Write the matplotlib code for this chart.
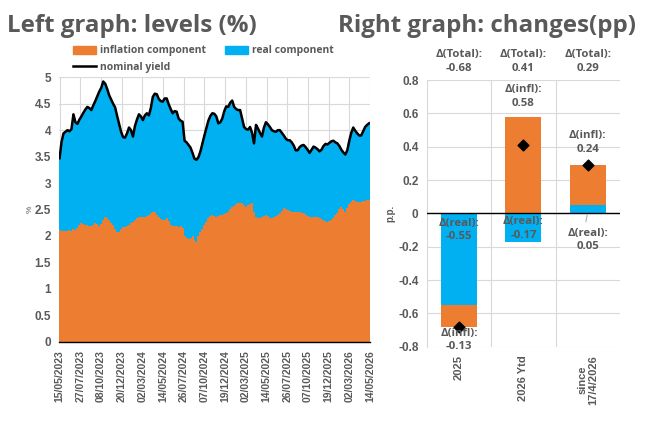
import numpy as np
import pandas as pd
import matplotlib
matplotlib.use("Agg")
import matplotlib.pyplot as plt
from matplotlib.lines import Line2D
from matplotlib.patches import Patch

# ---------------- data ----------------
start_date = "2023-05-15"
n_weeks = 157
nominal = [3.47, 3.78, 3.94, 3.97, 4.00, 3.98, 4.02, 4.30, 4.15, 4.12,
           4.20, 4.26, 4.33, 4.39, 4.44, 4.42, 4.38, 4.47, 4.55, 4.64,
           4.73, 4.80, 4.92, 4.88, 4.78, 4.66, 4.58, 4.50, 4.43, 4.27,
           4.12, 3.97, 3.87, 3.86, 3.94, 4.05, 4.00, 3.88, 4.08, 4.20,
           4.30, 4.26, 4.19, 4.28, 4.32, 4.28, 4.42, 4.63, 4.69, 4.68,
           4.59, 4.55, 4.54, 4.60, 4.60, 4.49, 4.40, 4.32, 4.36, 4.35,
           4.22, 4.18, 4.16, 3.80, 3.77, 3.72, 3.67, 3.57, 3.46, 3.44,
           3.49, 3.60, 3.75, 3.90, 4.04, 4.18, 4.27, 4.32, 4.31, 4.26,
           4.13, 4.15, 4.22, 4.36, 4.45, 4.44, 4.52, 4.56, 4.44, 4.40,
           4.38, 4.38, 4.22, 4.06, 4.02, 4.01, 4.06, 3.95, 3.75, 4.10,
           4.03, 3.95, 3.88, 4.05, 4.15, 4.11, 4.06, 4.00, 3.98, 3.97,
           4.00, 4.00, 3.95, 3.90, 3.84, 3.81, 3.81, 3.77, 3.71, 3.62,
           3.62, 3.68, 3.71, 3.72, 3.68, 3.63, 3.57, 3.63, 3.69, 3.67,
           3.64, 3.60, 3.63, 3.70, 3.74, 3.73, 3.76, 3.79, 3.80, 3.77,
           3.75, 3.70, 3.63, 3.58, 3.54, 3.62, 3.80, 3.95, 4.05, 3.99,
           3.94, 3.90, 3.90, 3.98, 4.06, 4.10, 4.13]
inflation = [2.11, 2.10, 2.09, 2.10, 2.09, 2.12, 2.10, 2.13, 2.12, 2.15,
             2.20, 2.24, 2.22, 2.21, 2.20, 2.19, 2.18, 2.21, 2.24, 2.22,
             2.19, 2.22, 2.30, 2.36, 2.34, 2.31, 2.25, 2.20, 2.14, 2.07,
             2.08, 2.13, 2.16, 2.17, 2.18, 2.21, 2.24, 2.27, 2.31, 2.33,
             2.35, 2.36, 2.36, 2.35, 2.37, 2.40, 2.43, 2.45, 2.46, 2.39,
             2.35, 2.32, 2.30, 2.31, 2.33, 2.28, 2.21, 2.19, 2.18, 2.18,
             2.17, 2.18, 2.15, 1.99, 1.97, 1.95, 1.97, 1.99, 1.92, 1.89,
             2.00, 2.08, 2.14, 2.20, 2.26, 2.34, 2.38, 2.40, 2.38, 2.36,
             2.37, 2.39, 2.40, 2.41, 2.43, 2.45, 2.51, 2.55, 2.57, 2.60,
             2.63, 2.62, 2.62, 2.58, 2.55, 2.58, 2.60, 2.62, 2.45, 2.35,
             2.33, 2.34, 2.35, 2.37, 2.40, 2.38, 2.33, 2.34, 2.36, 2.37,
             2.40, 2.43, 2.48, 2.52, 2.50, 2.49, 2.48, 2.46, 2.46, 2.46,
             2.46, 2.45, 2.44, 2.43, 2.40, 2.37, 2.36, 2.36, 2.36, 2.36,
             2.36, 2.34, 2.32, 2.30, 2.28, 2.27, 2.28, 2.31, 2.34, 2.39,
             2.44, 2.50, 2.55, 2.50, 2.46, 2.52, 2.60, 2.64, 2.68, 2.67,
             2.65, 2.65, 2.65, 2.66, 2.67, 2.68, 2.68]

tick_dates = ["15/05/2023", "27/07/2023", "08/10/2023", "20/12/2023",
              "02/03/2024", "14/05/2024", "26/07/2024", "07/10/2024",
              "19/12/2024", "02/03/2025", "14/05/2025", "26/07/2025",
              "07/10/2025", "19/12/2025", "02/03/2026", "14/05/2026"]

categories = ["2025", "2026 Ytd", "since\n17/4/2026"]
d_infl = [-0.13, 0.58, 0.24]
d_real = [-0.55, -0.17, 0.05]
d_total = [-0.68, 0.41, 0.29]

# ---------------- style ----------------
ORANGE = "#ED7D31"
BLUE = "#00B0F0"
GRAY = "#595959"
GRID = "#D9D9D9"
TFONT = ["Open Sans", "DejaVu Sans"]
AFONT = ["Liberation Sans", "DejaVu Sans"]

fig = plt.figure(figsize=(6.45, 4.24), dpi=100)

dates = pd.date_range(start_date, periods=n_weeks, freq="7D")
nom = np.array(nominal)
inf = np.array(inflation)
real = nom - inf

# ---------------- left chart ----------------
axL = fig.add_axes([0.0919, 0.1941, 0.4817, 0.6236])
axL.bar(dates, inf, width=7.0, color=ORANGE, linewidth=0, align="center")
axL.bar(dates, real, bottom=inf, width=7.0, color=BLUE, linewidth=0, align="center")
axL.plot(dates, nom, color="black", lw=1.8, solid_joinstyle="round")

tk = pd.to_datetime(tick_dates, format="%d/%m/%Y")
axL.set_xticks(tk)
axL.set_xticklabels(tick_dates, rotation=90, fontsize=7.5, color=GRAY,
                    family=AFONT, fontweight="bold")
axL.set_xlim(pd.Timestamp("2023-05-14"), pd.Timestamp("2026-05-14"))
axL.set_ylim(0, 5)
axL.set_yticks(np.arange(0, 5.01, 0.5))
axL.set_yticklabels(["0", "0.5", "1", "1.5", "2", "2.5", "3", "3.5", "4", "4.5", "5"],
                    fontsize=8.5, color=GRAY, family=AFONT, fontweight="bold")
axL.tick_params(length=0, pad=6)
axL.grid(True, color=GRID, lw=0.8)
axL.set_axisbelow(True)
for s in ["top", "right", "left"]:
    axL.spines[s].set_visible(False)
axL.spines["bottom"].set_color("black")
axL.spines["bottom"].set_linewidth(1.0)
axL.set_ylabel("%", fontsize=6, color=GRAY, family=AFONT, labelpad=0.5)

handles = [Patch(color=ORANGE, label="inflation component"),
           Line2D([0], [0], color="black", lw=1.8, label="nominal yield"),
           Patch(color=BLUE, label="real component")]
fig.legend(handles=handles, ncol=2, loc="upper left", bbox_to_anchor=(0.105, 0.905),
           frameon=False, prop={"family": TFONT, "weight": "bold", "size": 7.5},
           labelcolor=GRAY, handlelength=2.2, handleheight=0.8, columnspacing=1.8,
           handletextpad=0.4, labelspacing=0.5, borderpad=0)

# ---------------- right chart ----------------
axR = fig.add_axes([0.6616, 0.1823, 0.2997, 0.629])
x = np.arange(len(categories))
real_arr = np.array(d_real)
inf_arr = np.array(d_infl)
# stacking: real nearest zero, inflation stacked on the same side if same sign
infl_bottom = np.where(np.sign(inf_arr) == np.sign(real_arr), real_arr, 0)
axR.bar(x, real_arr, width=0.56, color=BLUE, linewidth=0, zorder=2)
axR.bar(x, inf_arr, bottom=infl_bottom, width=0.56, color=ORANGE, linewidth=0, zorder=2)
axR.scatter(x, d_total, marker="D", s=30, color="black", zorder=4)
axR.axhline(0, color="black", lw=1.0, zorder=3)

axR.set_xlim(-0.5, 2.5)
axR.set_ylim(-0.8, 0.8)
axR.set_yticks(np.round(np.arange(-0.8, 0.81, 0.2), 1))
axR.set_yticklabels(["-0.8", "-0.6", "-0.4", "-0.2", "0", "0.2", "0.4", "0.6", "0.8"],
                    fontsize=8.5, color=GRAY, family=AFONT, fontweight="bold")
axR.set_xticks(x)
axR.set_xticklabels(categories, rotation=90, fontsize=8, color=GRAY,
                    family=AFONT, fontweight="bold", linespacing=1.0)
axR.tick_params(length=0, pad=6)
axR.set_xticks([0.5, 1.5], minor=True)
axR.tick_params(which="minor", length=0)
axR.grid(True, axis="y", color=GRID, lw=0.8, zorder=0)
axR.grid(True, axis="x", which="minor", color=GRID, lw=0.8, zorder=0)
axR.set_axisbelow(True)
for s in ["top", "right", "bottom"]:
    axR.spines[s].set_visible(False)
axR.spines["left"].set_color(GRID)
axR.set_ylabel("p.p.", fontsize=7, color=GRAY, family=AFONT, fontweight="bold", labelpad=2)

lab = dict(ha="center", va="center", fontsize=8.2, color=GRAY, family=TFONT,
           fontweight="bold", linespacing=1.3, zorder=5)
for i in range(3):
    axR.text(x[i], 0.91, f"\u0394(Total):\n{d_total[i]:.2f}", clip_on=False, **lab)
# infl labels
axR.text(x[0], -0.76, f"\u0394(infl):\n{d_infl[0]:.2f}", clip_on=False, **lab)
axR.text(x[1], 0.70, f"\u0394(infl):\n{d_infl[1]:.2f}", **lab)
axR.text(x[2], 0.425, f"\u0394(infl):\n{d_infl[2]:.2f}", **lab)
# real labels
axR.text(x[0], -0.10, f"\u0394(real):\n{d_real[0]:.2f}", **lab)
axR.text(x[1], -0.09, f"\u0394(real):\n{d_real[1]:.2f}", **lab)
axR.text(x[2], -0.16, f"\u0394(real):\n{d_real[2]:.2f}", **lab)
axR.plot([x[2] - 0.01, x[2] - 0.03], [-0.01, -0.05], color="#A6A6A6", lw=0.7, zorder=5)

# ---------------- titles ----------------
fig.text(0.011, 0.924, "Left graph: levels (%)", fontsize=17.4, fontweight="bold",
         color=GRAY, family=TFONT, ha="left", va="baseline")
fig.text(0.524, 0.924, "Right graph: changes(pp)", fontsize=17.4, fontweight="bold",
         color=GRAY, family=TFONT, ha="left", va="baseline")

fig.savefig("out.png", dpi=100)
